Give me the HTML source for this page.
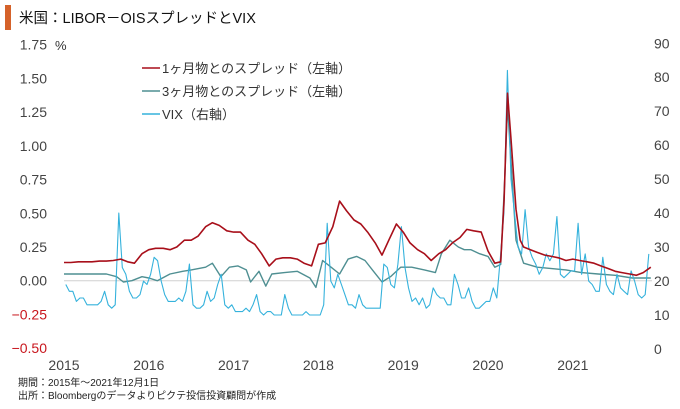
<!DOCTYPE html>
<html><head><meta charset="utf-8">
<style>
html,body{margin:0;padding:0;background:#fff;}
body{width:680px;height:404px;position:relative;overflow:hidden;font-family:"Liberation Sans","Noto Sans CJK JP",sans-serif;}
svg text{font-family:"Liberation Sans","Noto Sans CJK JP",sans-serif;}
</style></head>
<body>
<svg id="chart" width="680" height="404" viewBox="0 0 680 404" xmlns="http://www.w3.org/2000/svg">
  <rect x="5" y="5" width="6" height="25" fill="#d5622a"/>
  <text x="19" y="23" font-size="14.5" fill="#111">米国：LIBOR－OISスプレッドとVIX</text>
  <text x="55" y="50" font-size="13" fill="#333">%</text>
  <g id="leftTicks"></g>
  <g id="rightTicks"></g>
  <g id="xTicks"></g>
  <line id="zeroLine" x1="64" x2="652" stroke="#d0d0d0" stroke-width="1"/>
  <g id="series"></g>
  <g>
    <g>
      <line x1="142" x2="160" y1="68" y2="68" stroke="#a80f1a" stroke-width="1.5"/>
      <text x="162" y="73" font-size="13" fill="#333">1ヶ月物とのスプレッド（左軸）</text>
    </g>
    <g>
      <line x1="142" x2="160" y1="91" y2="91" stroke="#4f8f92" stroke-width="1.5"/>
      <text x="162" y="96" font-size="13" fill="#333">3ヶ月物とのスプレッド（左軸）</text>
    </g>
    <g>
      <line x1="142" x2="160" y1="114" y2="114" stroke="#35b2dc" stroke-width="1.5"/>
      <text x="162" y="119" font-size="13" fill="#333">VIX（右軸）</text>
    </g>
  </g>
  <text x="18" y="386" font-size="10" fill="#222">期間：2015年～2021年12月1日</text>
  <text x="18" y="399" font-size="10" fill="#222">出所：Bloombergのデータよりピクテ投信投資顧問が作成</text>
</svg>
<script>
const leftTicks = [1.75,1.50,1.25,1.00,0.75,0.50,0.25,0.00,-0.25,-0.50];
const leftTickLabels = ["1.75","1.50","1.25","1.00","0.75","0.50","0.25","0.00","-0.25","-0.50"];
const rightTicks = [90,80,70,60,50,40,30,20,10,0];
const years = [2015,2016,2017,2018,2019,2020,2021];

const m1Dates = [2015.0,2015.08,2015.17,2015.25,2015.33,2015.42,2015.5,2015.58,2015.67,2015.75,2015.83,2015.92,
2016.0,2016.08,2016.17,2016.25,2016.33,2016.42,2016.5,2016.58,2016.67,2016.75,2016.83,2016.92,
2017.0,2017.08,2017.17,2017.25,2017.33,2017.42,2017.5,2017.58,2017.67,2017.75,2017.83,2017.92,
2018.0,2018.08,2018.17,2018.25,2018.33,2018.42,2018.5,2018.58,2018.67,2018.75,2018.83,2018.92,
2019.0,2019.08,2019.17,2019.25,2019.33,2019.42,2019.5,2019.58,2019.67,2019.75,2019.83,2019.92,
2020.0,2020.08,2020.15,2020.19,2020.23,2020.27,2020.33,2020.38,2020.42,2020.5,2020.58,2020.67,2020.75,2020.83,2020.92,
2021.0,2021.08,2021.17,2021.25,2021.33,2021.42,2021.5,2021.58,2021.67,2021.75,2021.83,2021.92];
const m1Values = [.135,.135,.14,.14,.14,.145,.145,.15,.16,.14,.13,.2,
.23,.24,.24,.23,.25,.3,.3,.33,.4,.43,.41,.37,
.36,.36,.3,.27,.2,.11,.16,.17,.17,.16,.13,.11,
.27,.28,.4,.59,.52,.45,.42,.36,.28,.19,.3,.42,
.36,.28,.23,.2,.15,.2,.23,.28,.32,.38,.37,.36,
.22,.13,.14,.6,1.39,1.06,.53,.3,.25,.23,.21,.19,.18,.17,.15,
.16,.15,.14,.13,.11,.09,.07,.06,.05,.04,.06,.1];

const m3Dates = [2015.0,2015.17,2015.33,2015.5,2015.62,2015.7,2015.8,2015.92,
2016.0,2016.1,2016.25,2016.4,2016.5,2016.67,2016.75,2016.85,2016.95,
2017.05,2017.15,2017.2,2017.3,2017.38,2017.45,2017.6,2017.75,2017.9,2017.97,
2018.05,2018.15,2018.25,2018.35,2018.45,2018.55,2018.65,2018.75,2018.85,2018.97,
2019.1,2019.25,2019.38,2019.45,2019.55,2019.65,2019.72,2019.8,2019.9,
2020.0,2020.08,2020.15,2020.2,2020.23,2020.27,2020.33,2020.42,2020.58,2020.75,2020.92,
2021.1,2021.3,2021.5,2021.7,2021.92];
const m3Values = [.05,.05,.05,.05,.03,-.01,.0,.03,
.02,.0,.05,.07,.08,.1,.13,.03,.1,
.11,.08,-.01,.07,-.04,.05,.06,.07,.02,-.05,
.15,.1,.05,.16,.18,.15,.07,-.01,.03,.1,
.1,.08,.06,.2,.3,.25,.23,.23,.2,
.18,.1,.12,.8,1.3,.9,.3,.13,.1,.09,.08,
.06,.05,.04,.02,.02];

const vixValues = [19,17,17,14,15,15,13,13,13,13,14,17,13,12,13,40,24,22,17,15,15,16,20,19,
22,27,26,20,16,14,14,14,15,14,17,25,13,12,12,13,17,14,15,19,22,13,12,13,
11,11,11,12,11,13,16,11,10,11,11,10,10,10,16,12,10,10,10,10,11,10,10,10,
10,13,37,20,18,22,19,16,13,13,12,16,13,12,12,12,12,12,25,24,19,18,25,36,
24,18,14,15,13,15,12,13,18,16,15,15,13,13,22,19,15,15,18,14,12,12,13,14,
14,18,15,27,40,82,50,40,30,28,41,30,27,25,22,24,28,26,28,39,22,21,22,23,
23,37,22,28,20,19,17,17,27,19,17,16,22,18,17,16,23,20,16,15,16,28];

const X0 = 64, PXYR = 84.8;
const xOf = d => X0 + (d - 2015) * PXYR;
const yL = v => 280.7 - v * 134.9;
const yR = v => 349 - v * 3.397;
const NS = "http://www.w3.org/2000/svg";
function mk(tag, attrs, parent){ const e=document.createElementNS(NS,tag); for(const k in attrs) e.setAttribute(k,attrs[k]); parent.appendChild(e); return e; }

document.getElementById('zeroLine').setAttribute('y1', yL(0));
document.getElementById('zeroLine').setAttribute('y2', yL(0));

const lt = document.getElementById('leftTicks');
leftTicks.forEach((v,i)=>{
  const t = mk('text',{x:47,y:yL(v)+5,'text-anchor':'end','font-size':14,fill: v<0?'#c8161d':'#444'},lt);
  
  
  t.textContent = leftTickLabels[i].replace('-','−');
});
const rt = document.getElementById('rightTicks');
rightTicks.forEach(v=>{
  const t = mk('text',{x:654,y:yR(v)+5,'font-size':14,fill:'#444'},rt);
  
  
  t.textContent = v;
});
const xt = document.getElementById('xTicks');
years.forEach(y=>{
  const t = mk('text',{x:xOf(y),y:370,'text-anchor':'middle','font-size':14,fill:'#444'},xt);
  
  
  t.textContent = y;
});

const ser = document.getElementById('series');
function line(dates, vals, yf, color, w, name){
  const pts = vals.map((v,i)=>xOf(dates[i]).toFixed(1)+','+yf(v).toFixed(1)).join(' ');
  const p = mk('polyline',{points:pts,fill:'none',stroke:color,'stroke-width':w,'stroke-linejoin':'round'},ser);
  
  
}
const vixDates = vixValues.map((v,i)=>2015 + i/24 + 1/48);
line(m3Dates, m3Values, yL, '#4f8f92', 1.4, 'series-3m-spread');
line(vixDates, vixValues, yR, '#35b2dc', 1.1, 'series-vix');
line(m1Dates, m1Values, yL, '#a80f1a', 1.6, 'series-1m-spread');
</script>
</body></html>
